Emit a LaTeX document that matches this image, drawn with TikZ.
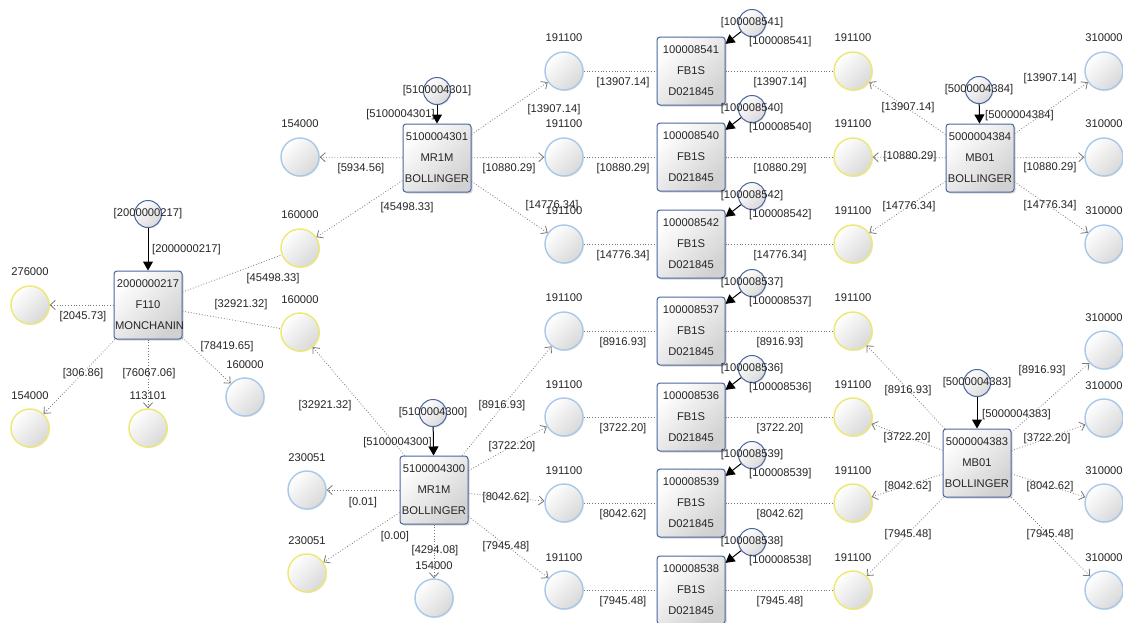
\documentclass[tikz,border=0pt]{standalone}
\usepackage{fontspec}
\setmainfont{Liberation Sans}
\usetikzlibrary{arrows.meta,shadows}
\definecolor{ringblue}{RGB}{168,200,234}
\definecolor{ringyellow}{RGB}{238,232,112}
\definecolor{tagblue}{RGB}{74,102,160}
\definecolor{flowgray}{RGB}{118,118,118}
\definecolor{inkgray}{RGB}{38,38,38}
\begin{document}
\begin{tikzpicture}
  [x=1pt,y=-1pt,>={Straight Barb[length=5pt,width=9pt]},
   txt/.style={font=\fontsize{11.2}{13}\selectfont,text=inkgray},
   val/.style={txt,inner sep=1pt},
   every label/.style={val},label distance=8pt,
   ball/.style={circle,draw,line width=1.4pt,minimum size=38pt,inner sep=0pt,
     top color=white,bottom color=black!15,shading angle=45,
     drop shadow={shadow xshift=1pt,shadow yshift=-1pt,fill=black!20,opacity=0.5}},
   bluecirc/.style={ball,draw=ringblue},
   yellowcirc/.style={ball,draw=ringyellow},
   idcirc/.style={ball,draw=tagblue,line width=1pt,minimum size=27pt},
   unitbox/.style={draw=tagblue,line width=1pt,rounded corners=3pt,
     minimum width=68pt,minimum height=68pt,text width=66pt,align=center,inner sep=1pt,
     top color=white,bottom color=black!18,shading angle=45,
     font=\fontsize{11.2}{21}\selectfont,text=inkgray,
     drop shadow={shadow xshift=1.5pt,shadow yshift=-1.5pt,fill=black!30,opacity=0.5}},
   flow/.style={draw=flowgray,line width=0.8pt,dash pattern=on 0.8pt off 2pt},
   feed/.style={draw=black,line width=1pt,-{Triangle[length=9pt,width=10pt]}}]

\useasboundingbox (0,0) rectangle (1123,622);
\clip (0,0) rectangle (1123,622);
\fill[white] (0,0) rectangle (1123,622);

% F110 unit
\node[unitbox] (f110) at (148,305) {2000000217\\F110\\MONCHANIN};
\node[idcirc,label=center:{[2000000217]}] (f110tag) at (148,214) {};
\draw[feed] (f110tag) -- (f110);
\node[val,anchor=west] (f110tagv) at (151,250) {[2000000217]};
\node[yellowcirc,label=above:276000] (c276) at (30,305) {};
\node[yellowcirc,label=above:154000] (c154a) at (30,428) {};
\node[yellowcirc,label=above:113101] (c113) at (148,428) {};
\node[bluecirc,label=above:160000] (c160a) at (245,397) {};
\node[yellowcirc,label=above:160000] (c160b) at (300,248) {};
\node[yellowcirc,label=above:160000] (c160c) at (300,332) {};
\draw[flow,->] (f110) -- (c276);
\draw[flow,->] (f110) -- (c154a);
\draw[flow,->] (f110) -- (c113);
\draw[flow,->] (f110) -- (c160a);
\draw[flow] (f110) -- (c160b);
\draw[flow] (f110) -- (c160c);
\node[val] (f110l1) at (83,317) {[2045.73]};
\node[val] (f110l2) at (83,374) {[306.86]};
\node[val] (f110l3) at (149,374) {[76067.06]};
\node[val] (f110l4) at (227,347) {[78419.65]};
\node[val] (f110l5) at (273,279) {[45498.33]};
\node[val] (f110l6) at (241,305) {[32921.32]};

% MR1M units
\node[unitbox] (mr01) at (437,158) {5100004301\\MR1M\\BOLLINGER};
\node[idcirc,label=center:{[5100004301]}] (mr01tag) at (437,91) {};
\draw[feed] (mr01tag) -- (mr01);
\node[val,anchor=east] (mr01tagv) at (436,115) {[5100004301]};
\node[bluecirc,label=above:154000] (c154b) at (300,157) {};
\draw[flow,->] (mr01) -- (c154b);
\draw[flow,->] (mr01) -- (c160b);
\node[val] (mr01l1) at (361,169) {[5934.56]};
\node[val] (mr01l2) at (407,208) {[45498.33]};

\node[unitbox] (mr00) at (434,490) {5100004300\\MR1M\\BOLLINGER};
\node[idcirc,label=center:{[5100004300]}] (mr00tag) at (433,413) {};
\draw[feed] (mr00tag) -- (mr00);
\node[val,anchor=east] (mr00tagv) at (433,443) {[5100004300]};
\node[bluecirc,label=above:230051] (c230a) at (307,490) {};
\node[yellowcirc,label=above:230051] (c230b) at (307,573) {};
\node[bluecirc,label=above:154000] (c154c) at (434,598) {};
\draw[flow,->] (mr00) -- (c160c);
\draw[flow,->] (mr00) -- (c230a);
\draw[flow,->] (mr00) -- (c230b);
\draw[flow,->] (mr00) -- (c154c);
\node[val] (mr00l1) at (325,406) {[32921.32]};
\node[val] (mr00l2) at (363,503) {[0.01]};
\node[val] (mr00l3) at (395,537) {[0.00]};
\node[val] (mr00l4) at (435,551) {[4294.08]};

% FB1S rows
\foreach \y/\id/\w [count=\i] in {71/100008541/13907.14,157/100008540/10880.29,
  244/100008542/14776.34,331/100008537/8916.93,417/100008536/3722.20,
  503/100008539/8042.62,590/100008538/7945.48}
{
  \node[bluecirc,label=above:191100] (in\i) at (564,\y) {};
  \node[unitbox] (fb\i) at (691,\y) {\id\\FB1S\\D021845};
  \node[yellowcirc,label=above:191100] (out\i) at (853,\y) {};
  \node[idcirc,label=center:{[\id]}] (fbtag\i) at (752,{\y-48}) {};
  \draw[feed] (fbtag\i) -- (fb\i);
  \node[val,anchor=west] (fbtagv\i) at (748,{\y-29}) {[\id]};
  \draw[flow] (in\i) -- (fb\i);
  \draw[flow] (fb\i) -- (out\i);
  \node[val] (fbl\i) at (623,{\y+12}) {[\w]};
  \node[val] (fbr\i) at (780,{\y+12}) {[\w]};
}

\foreach \i/\lx/\ly/\w in {1/554/110/13907.14,2/509/169/10880.29,3/552/206/14776.34}
{
  \draw[flow,->] (mr01) -- (in\i);
  \node[val] (mr01w\i) at (\lx,\ly) {[\w]};
}
\foreach \i/\lx/\ly/\w in {4/502/406/8916.93,5/512/447/3722.20,6/506/498/8042.62,7/506/547/7945.48}
{
  \draw[flow,->] (mr00) -- (in\i);
  \node[val] (mr00w\i) at (\lx,\ly) {[\w]};
}

% MB01 units
\foreach \y [count=\i] in {71,157,244,350,418,503,590}
  \node[bluecirc,label=above:310000] (far\i) at (1104,\y) {};

\node[unitbox] (mb84) at (980,158) {5000004384\\MB01\\BOLLINGER};
\node[idcirc,label=center:{[5000004384]}] (mb84tag) at (979,90) {};
\draw[feed] (mb84tag) -- (mb84);
\node[val,anchor=west] (mb84tagv) at (984,116) {[5000004384]};
\foreach \i/\lx/\ly/\rx/\ry/\w in {1/908/108/1050/79/13907.14,2/910/157/1050/168/10880.29,
  3/909/207/1050/206/14776.34}
{
  \draw[flow,->] (mb84) -- (out\i);
  \draw[flow,->] (mb84) -- (far\i);
  \node[val] (mb84l\i) at (\lx,\ly) {[\w]};
  \node[val] (mb84r\i) at (\rx,\ry) {[\w]};
}

\node[unitbox] (mb83) at (977,463) {5000004383\\MB01\\BOLLINGER};
\node[idcirc,label=center:{[5000004383]}] (mb83tag) at (977,383) {};
\draw[feed] (mb83tag) -- (mb83);
\node[val,anchor=west] (mb83tagv) at (981,415) {[5000004383]};
\foreach \i/\lx/\ly/\rx/\ry/\w in {4/908/391/1042/371/8916.93,5/907/438/1047/439/3722.20,
  6/908/487/1050/487/8042.62,7/908/535/1050/535/7945.48}
{
  \draw[flow,->] (mb83) -- (out\i);
  \draw[flow,->] (mb83) -- (far\i);
  \node[val] (mb83l\i) at (\lx,\ly) {[\w]};
  \node[val] (mb83r\i) at (\rx,\ry) {[\w]};
}

\end{tikzpicture}
\end{document}
